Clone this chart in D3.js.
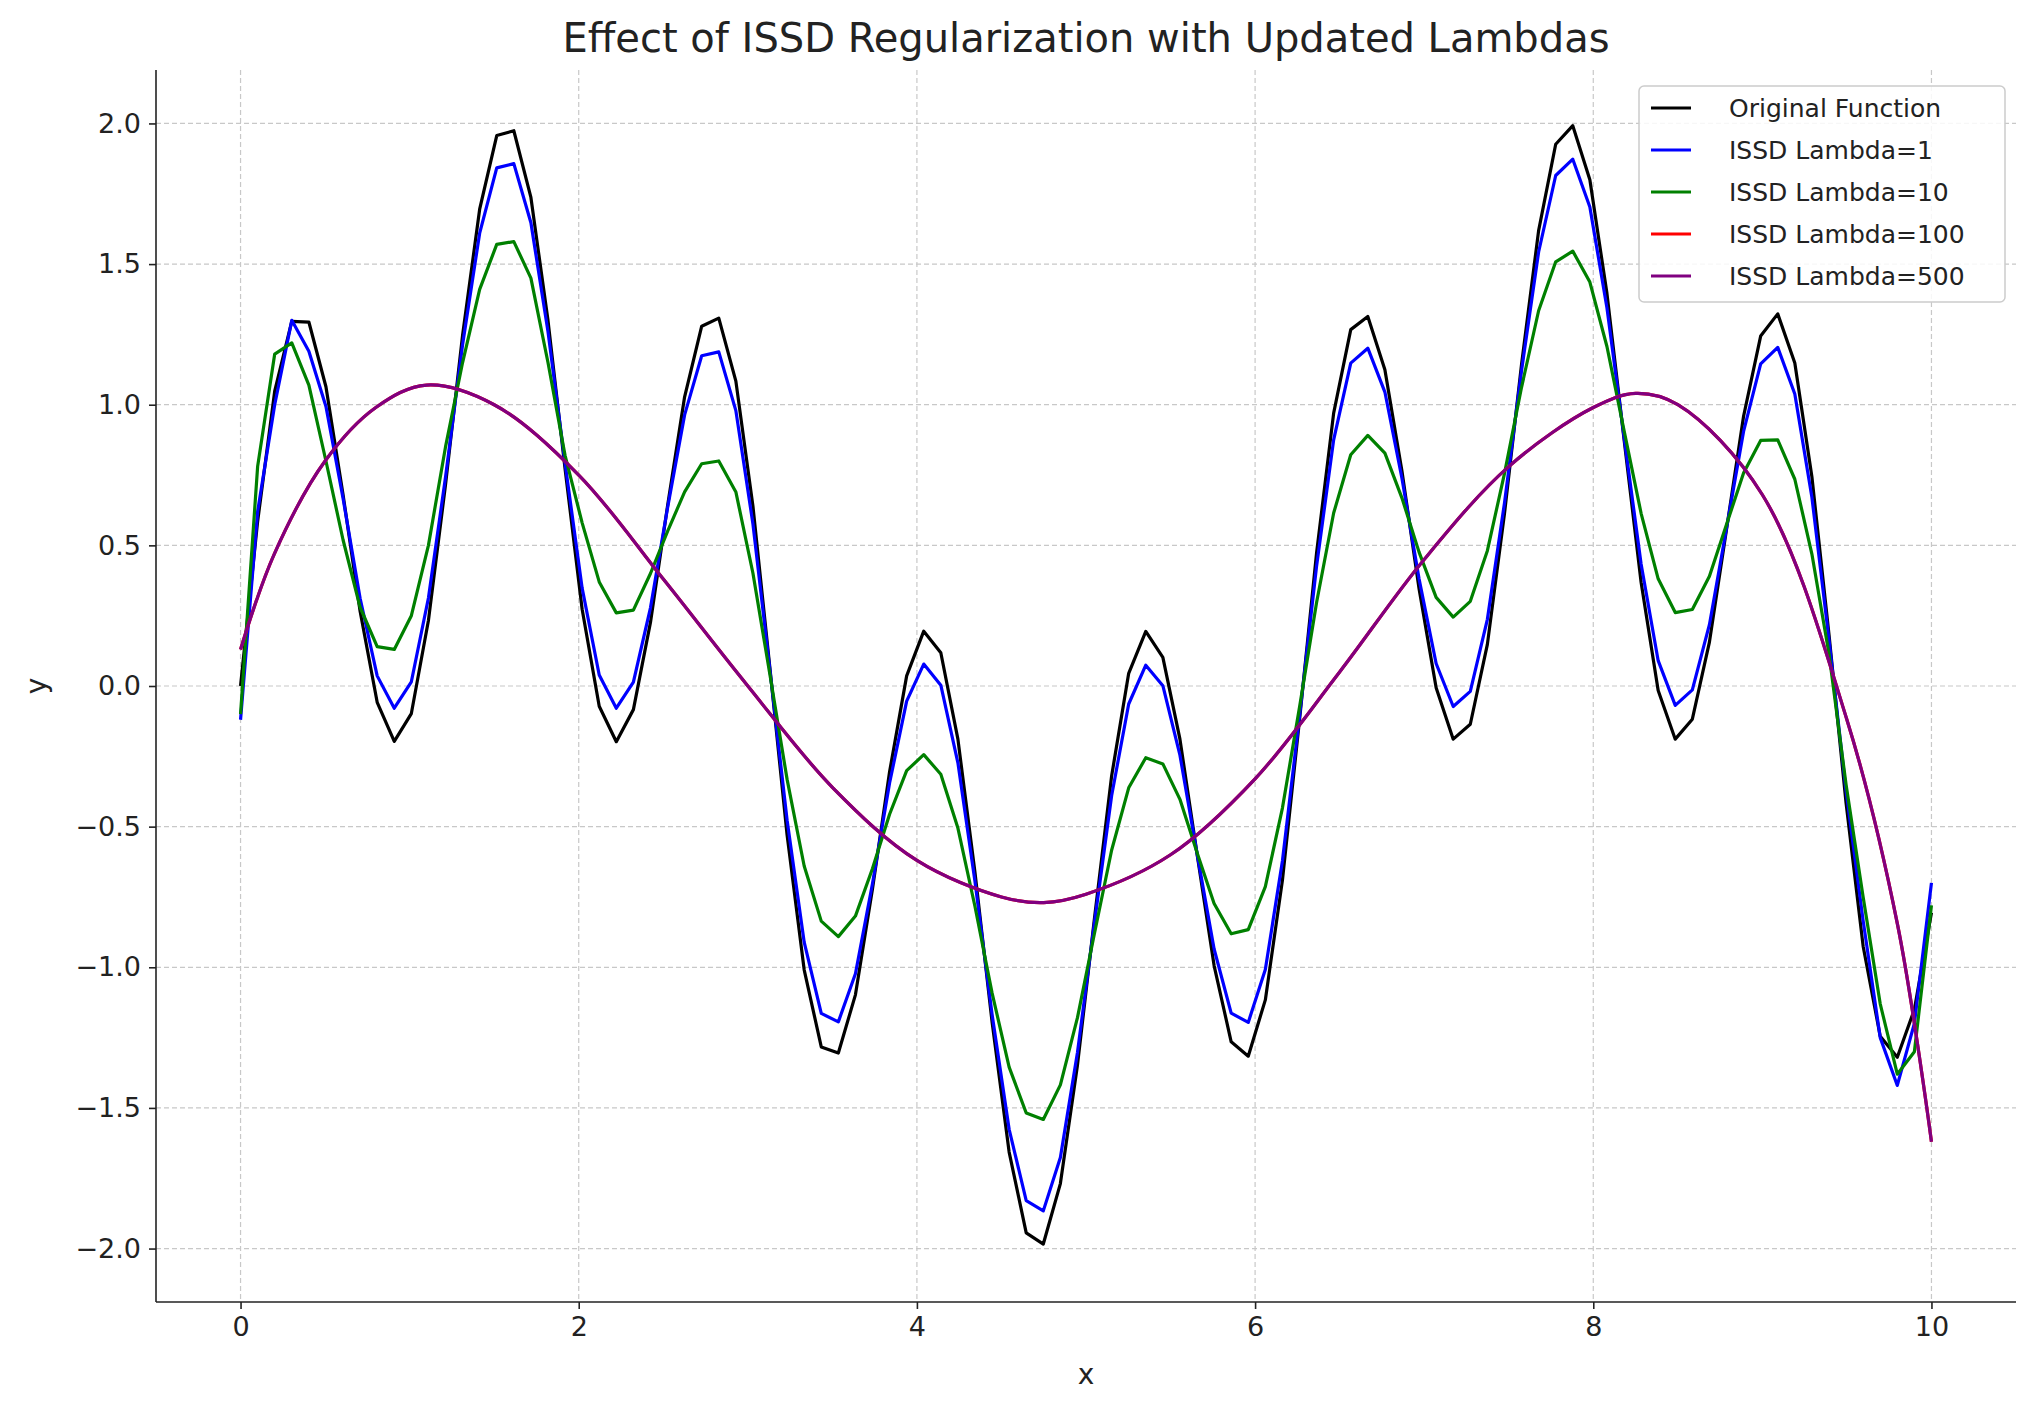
<!DOCTYPE html>
<html>
<head>
<meta charset="utf-8">
<script src="https://cdn.jsdelivr.net/npm/d3@7"></script>
<style>
  body { margin: 0; background: #fff; }
  text { font-family: "DejaVu Sans", sans-serif; fill: #222; }
</style>
</head>
<body>
<div id="chart"></div>
<script>
// sample positions (100 samples from 0 to 10)
const xs = d3.range(100).map(i => i * 10 / 99);

const original = [0,0.585,1.048,1.296,1.294,1.064,0.681,0.266,-0.058,-0.197,-0.098,0.233,0.715,1.247,1.695,1.957,1.974,1.737,1.300,0.772,
  0.273,-0.072,-0.198,-0.084,0.226,0.640,1.028,1.279,1.308,1.084,0.639,0.060,-0.530,-1.009,-1.283,-1.305,-1.098,-0.721,-0.305,0.036,
  0.195,0.118,-0.189,-0.663,-1.194,-1.657,-1.944,-1.984,-1.769,-1.348,-0.824,-0.320,0.045,0.194,0.102,-0.189,-0.596,-0.994,-1.265,-1.316,
  -1.116,-0.691,-0.121,0.473,0.970,1.267,1.314,1.124,0.763,0.346,-0.006,-0.189,-0.136,0.148,0.612,1.143,1.619,1.926,1.992,1.800,
  1.396,0.878,0.369,-0.016,-0.189,-0.118,0.156,0.556,0.959,1.244,1.323,1.148,0.744,0.183,-0.415,-0.925,-1.245,-1.320,-1.150,-0.806];

const lambda1 = [-0.12,0.62,1.0,1.30,1.19,0.994,0.668,0.312,0.036,-0.079,0.015,0.313,0.742,1.213,1.610,1.842,1.857,1.647,1.260,0.792,
  0.348,0.039,-0.079,0.014,0.278,0.633,0.964,1.174,1.188,0.979,0.576,0.054,-0.477,-0.911,-1.164,-1.194,-1.023,-0.702,-0.345,-0.054,
  0.078,0.003,-0.273,-0.695,-1.167,-1.576,-1.830,-1.866,-1.676,-1.303,-0.839,-0.390,-0.064,0.074,0.001,-0.246,-0.595,-0.935,-1.163,-1.196,
  -1.008,-0.622,-0.109,0.426,0.875,1.148,1.201,1.045,0.738,0.381,0.080,-0.073,-0.019,0.237,0.650,1.121,1.543,1.815,1.873,1.703,
  1.345,0.886,0.434,0.090,-0.069,-0.014,0.218,0.561,0.905,1.145,1.204,1.038,0.671,0.165,-0.373,-0.834,-1.25,-1.42,-1.20,-0.70];

const lambda10 = [-0.10,0.78,1.18,1.22,1.07,0.80,0.52,0.28,0.14,0.13,0.25,0.50,0.85,1.15,1.41,1.57,1.58,1.45,1.15,0.82,
  0.58,0.37,0.26,0.27,0.40,0.55,0.69,0.79,0.80,0.69,0.401,0.038,-0.332,-0.640,-0.836,-0.891,-0.818,-0.649,-0.456,-0.301,
  -0.244,-0.314,-0.505,-0.784,-1.091,-1.355,-1.518,-1.541,-1.418,-1.179,-0.878,-0.584,-0.362,-0.255,-0.277,-0.403,-0.592,-0.773,-0.881,-0.866,
  -0.713,-0.434,-0.076,0.297,0.615,0.822,0.891,0.828,0.668,0.476,0.315,0.245,0.301,0.481,0.755,1.062,1.334,1.508,1.546,1.436,
  1.207,0.909,0.614,0.381,0.261,0.272,0.390,0.574,0.757,0.873,0.875,0.735,0.469,0.115,-0.35,-0.75,-1.13,-1.38,-1.30,-0.78];

// smooth curves (lambda 100 and 500 coincide)
const smoothX = [0,0.2,0.5,0.8,1.1,1.5,2.0,2.5,3.0,3.5,4.0,4.5,4.75,5.0,5.5,6.0,6.5,7.0,7.5,8.0,8.25,8.5,9.0,9.5,9.8,10];
const lambda100 = [0.13,0.47,0.80,0.99,1.07,1.00,0.75,0.38,0.0,-0.36,-0.62,-0.75,-0.77,-0.74,-0.60,-0.33,0.05,0.45,0.78,0.99,1.04,1.00,0.68,-0.12,-0.85,-1.62];
const lambda500 = [0.13,0.47,0.80,0.99,1.07,1.00,0.75,0.38,0.0,-0.36,-0.62,-0.75,-0.77,-0.74,-0.60,-0.33,0.05,0.45,0.78,0.99,1.04,1.00,0.68,-0.12,-0.85,-1.62];

const xTicks = [0, 2, 4, 6, 8, 10];
const yTicks = [-2.0, -1.5, -1.0, -0.5, 0.0, 0.5, 1.0, 1.5, 2.0];

const W = 2035, H = 1409;
const m = {left: 156, right: 19, top: 70, bottom: 107};

const svg = d3.select("#chart").append("svg")
  .attr("width", W).attr("height", H);

const x = d3.scaleLinear().domain([-0.5, 10.5]).range([m.left, W - m.right]);
const y = d3.scaleLinear().domain([-2.19, 2.19]).range([H - m.bottom, m.top]);

// grid
svg.append("g").selectAll("line").data(xTicks).enter().append("line")
  .attr("x1", d => x(d)).attr("x2", d => x(d))
  .attr("y1", m.top).attr("y2", H - m.bottom)
  .style("stroke", "#c8c8c8").style("stroke-dasharray", "5,3").style("stroke-width", 1.2);
svg.append("g").selectAll("line").data(yTicks).enter().append("line")
  .attr("x1", m.left).attr("x2", W - m.right)
  .attr("y1", d => y(d)).attr("y2", d => y(d))
  .style("stroke", "#c8c8c8").style("stroke-dasharray", "5,3").style("stroke-width", 1.2);

const fmtY = d => (d < 0 ? "\u2212" : "") + Math.abs(d).toFixed(1);

const xAxis = svg.append("g").attr("transform", "translate(0," + (H - m.bottom) + ")")
  .call(d3.axisBottom(x).tickValues(xTicks).tickSize(7).tickPadding(8));
const yAxis = svg.append("g").attr("transform", "translate(" + m.left + ",0)")
  .call(d3.axisLeft(y).tickValues(yTicks).tickFormat(fmtY).tickSize(7).tickPadding(8));
[xAxis, yAxis].forEach(a => {
  a.selectAll("text").style("font-size", "27px").style("font-family", "DejaVu Sans").style("fill", "#222");
  a.selectAll("line, path").style("stroke", "#222").style("stroke-width", 1.6);
});
xAxis.select(".domain").attr("d", "M" + m.left + ",0H" + (W - m.right));
yAxis.select(".domain").attr("d", "M0," + m.top + "V" + (H - m.bottom));

// lines
const series = [
  {name: "Original Function", xs: xs, ys: original, color: "black"},
  {name: "ISSD Lambda=1", xs: xs, ys: lambda1, color: "blue"},
  {name: "ISSD Lambda=10", xs: xs, ys: lambda10, color: "green"},
  {name: "ISSD Lambda=100", xs: smoothX, ys: lambda100, color: "red", curve: true},
  {name: "ISSD Lambda=500", xs: smoothX, ys: lambda500, color: "purple", curve: true}
];

series.forEach(s => {
  const line = d3.line().x(d => x(d[0])).y(d => y(d[1]))
    .curve(s.curve ? d3.curveCatmullRom : d3.curveLinear);
  svg.append("path")
    .datum(d3.zip(s.xs, s.ys))
    .attr("d", line)
    .style("fill", "none")
    .style("stroke", s.color)
    .style("stroke-width", 3.2)
    .style("stroke-linejoin", "round");
});

// labels
svg.append("text").attr("x", (m.left + W - m.right) / 2).attr("y", 52)
  .attr("text-anchor", "middle").style("font-size", "40px").text("Effect of ISSD Regularization with Updated Lambdas");
svg.append("text").attr("x", (m.left + W - m.right) / 2).attr("y", H - 25)
  .attr("text-anchor", "middle").style("font-size", "28px").text("x");
svg.append("text").attr("transform", "translate(46," + (m.top + H - m.bottom) / 2 + ") rotate(-90)")
  .attr("text-anchor", "middle").style("font-size", "28px").text("y");

// legend
const lg = svg.append("g").attr("transform", "translate(1639,86)");
lg.append("rect").attr("width", 366).attr("height", 216).attr("rx", 5)
  .style("fill", "white").style("fill-opacity", 0.85).style("stroke", "#ccc").style("stroke-width", 1.5);
lg.selectAll(".li").data(series).enter().append("line")
  .attr("x1", 12).attr("x2", 52)
  .attr("y1", (d, i) => 22 + i * 42).attr("y2", (d, i) => 22 + i * 42)
  .style("stroke", d => d.color).style("stroke-width", 3.2);
lg.selectAll(".lt").data(series).enter().append("text")
  .attr("x", 90).attr("y", (d, i) => 31 + i * 42)
  .style("font-size", "25px")
  .text(d => d.name);
</script>
</body>
</html>
